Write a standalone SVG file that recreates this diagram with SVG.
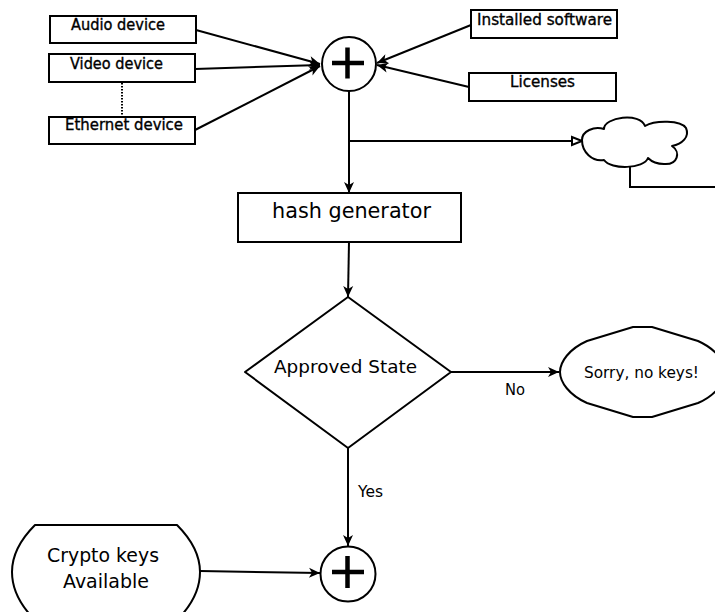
<svg xmlns="http://www.w3.org/2000/svg" width="715" height="612" viewBox="0 0 715 612">
  <style>
    .box { fill: #fff; stroke: #000; stroke-width: 2; }
    .shape { fill: #fff; stroke: #000; stroke-width: 2; stroke-linejoin: round; }
    .plus { stroke: #000; stroke-width: 4.5; fill: none; }
    .wire { fill: none; stroke: #000; stroke-width: 2; }
    .arrow { marker-end: url(#head); }
    text { font-family: "DejaVu Sans", "Liberation Sans", sans-serif; fill: #000; }
    .small { font-size: 15px; }
    .heavy { stroke: #000; stroke-width: 0.35; }
    .label { font-size: 16px; }
    .mid { font-size: 18px; }
    .crypto { font-size: 19px; }
    .big { font-size: 20.5px; }
  </style>
  <defs>
    <marker id="head" markerUnits="userSpaceOnUse" markerWidth="14" markerHeight="12" viewBox="-11 -6 12 12" refX="0" refY="0" orient="auto">
      <path d="M0,0 L-11,-5 L-8,0 L-11,5 Z" fill="#000"/>
    </marker>
    <marker id="open" markerUnits="userSpaceOnUse" markerWidth="14" markerHeight="12" viewBox="-12 -6 14 12" refX="0" refY="0" orient="auto">
      <path d="M0,0 L-10,-4 L-10,4 Z" fill="#fff" stroke="#000" stroke-width="2" stroke-linejoin="miter"/>
    </marker>
  </defs>

  <rect width="715" height="612" fill="#fff"/>

  <!-- connectors -->
  <g id="connectors">
    <line class="wire arrow" x1="196" y1="30" x2="320" y2="64"/>
    <line class="wire arrow" x1="195" y1="69" x2="320" y2="65"/>
    <line class="wire arrow" x1="195" y1="130" x2="320" y2="66"/>
    <line class="wire arrow" x1="471" y1="25" x2="377" y2="63"/>
    <line class="wire arrow" x1="469" y1="87" x2="377" y2="65"/>
    <line x1="122" y1="83" x2="122" y2="115" stroke="#000" stroke-width="2" stroke-dasharray="1.5,1.5"/>
    <line class="wire arrow" x1="349" y1="91" x2="349" y2="193"/>
    <line class="wire" x1="349" y1="141" x2="582" y2="141" marker-end="url(#open)"/>
    <polyline class="wire" points="630,167 630,187 715,187"/>
    <line class="wire arrow" x1="349" y1="242" x2="348" y2="297"/>
    <line class="wire arrow" x1="451" y1="372" x2="559" y2="372"/>
    <line class="wire arrow" x1="348" y1="448" x2="348" y2="546"/>
    <line class="wire arrow" x1="200" y1="571" x2="320" y2="573"/>
    <text class="label" x="505" y="395" textLength="20" lengthAdjust="spacingAndGlyphs">No</text>
    <text class="small" x="358" y="497" textLength="25" lengthAdjust="spacingAndGlyphs">Yes</text>
  </g>

  <!-- input devices -->
  <g id="audio">
    <rect class="box" x="50" y="16" width="146" height="27"/>
    <text class="small heavy" x="71" y="30" textLength="94" lengthAdjust="spacingAndGlyphs">Audio device</text>
  </g>
  <g id="video">
    <rect class="box" x="49" y="54" width="146" height="28"/>
    <text class="small heavy" x="70" y="68.5" textLength="93" lengthAdjust="spacingAndGlyphs">Video device</text>
  </g>
  <g id="ethernet">
    <rect class="box" x="49" y="117" width="146" height="27"/>
    <text class="small heavy" x="65" y="130" textLength="118" lengthAdjust="spacingAndGlyphs">Ethernet device</text>
  </g>
  <g id="software">
    <rect class="box" x="471" y="10" width="146" height="28"/>
    <text class="small heavy" x="477" y="25" textLength="135" lengthAdjust="spacingAndGlyphs">Installed software</text>
  </g>
  <g id="licenses">
    <rect class="box" x="469" y="73" width="147" height="28"/>
    <text class="small heavy" x="510" y="87" textLength="65" lengthAdjust="spacingAndGlyphs">Licenses</text>
  </g>

  <!-- combining junction -->
  <g id="sum-top">
    <circle class="shape" cx="349" cy="64" r="27"/>
    <path class="plus" d="M332,63 H364 M347.5,47.5 V78.5"/>
  </g>

  <!-- cloud -->
  <g id="cloud">
    <path class="shape" stroke-width="2.5" d="M582,140 C582,131 594,126 604,129 C604,117 640,112 645,126 C655,120 681,120 686,128 C690,137 682,144 672,146 C681,152 678,165 664,164 C658,164 652,162 648,158 C644,169 611,170 604,160 C592,162 582,152 582,140 Z"/>
  </g>

  <g id="hash">
    <rect class="box" x="238" y="193" width="223" height="49"/>
    <text class="big" x="272" y="218" textLength="159" lengthAdjust="spacingAndGlyphs">hash generator</text>
  </g>

  <g id="approved">
    <polygon class="shape" points="348,297 451,372 348,448 245,372"/>
    <text class="mid" x="274" y="373" textLength="143" lengthAdjust="spacingAndGlyphs">Approved State</text>
  </g>

  <g id="sorry">
    <path class="shape" d="M633,327 L652,327 L698,341 C716,349 725,362 725,372 C725,382 716,395 698,403 L652,417 L633,417 L587,403 C569,395 560,382 560,372 C560,362 569,349 587,341 Z"/>
    <text class="label" x="584" y="377.5" textLength="115" lengthAdjust="spacingAndGlyphs">Sorry, no keys!</text>
  </g>

  <g id="crypto">
    <path class="shape" d="M35,525 L177,525 C192,540 200,555 200,572 C200,590 192,605 177,620 L35,620 C20,605 12,590 12,572 C12,555 20,540 35,525 Z"/>
    <text class="crypto" x="47" y="562" textLength="112" lengthAdjust="spacingAndGlyphs">Crypto keys</text>
    <text class="crypto" x="63" y="588" textLength="86" lengthAdjust="spacingAndGlyphs">Available</text>
  </g>

  <g id="sum-bottom">
    <circle class="shape" cx="348" cy="574" r="27.5"/>
    <path class="plus" d="M332,572 H364 M347.5,556 V588"/>
  </g>
</svg>
